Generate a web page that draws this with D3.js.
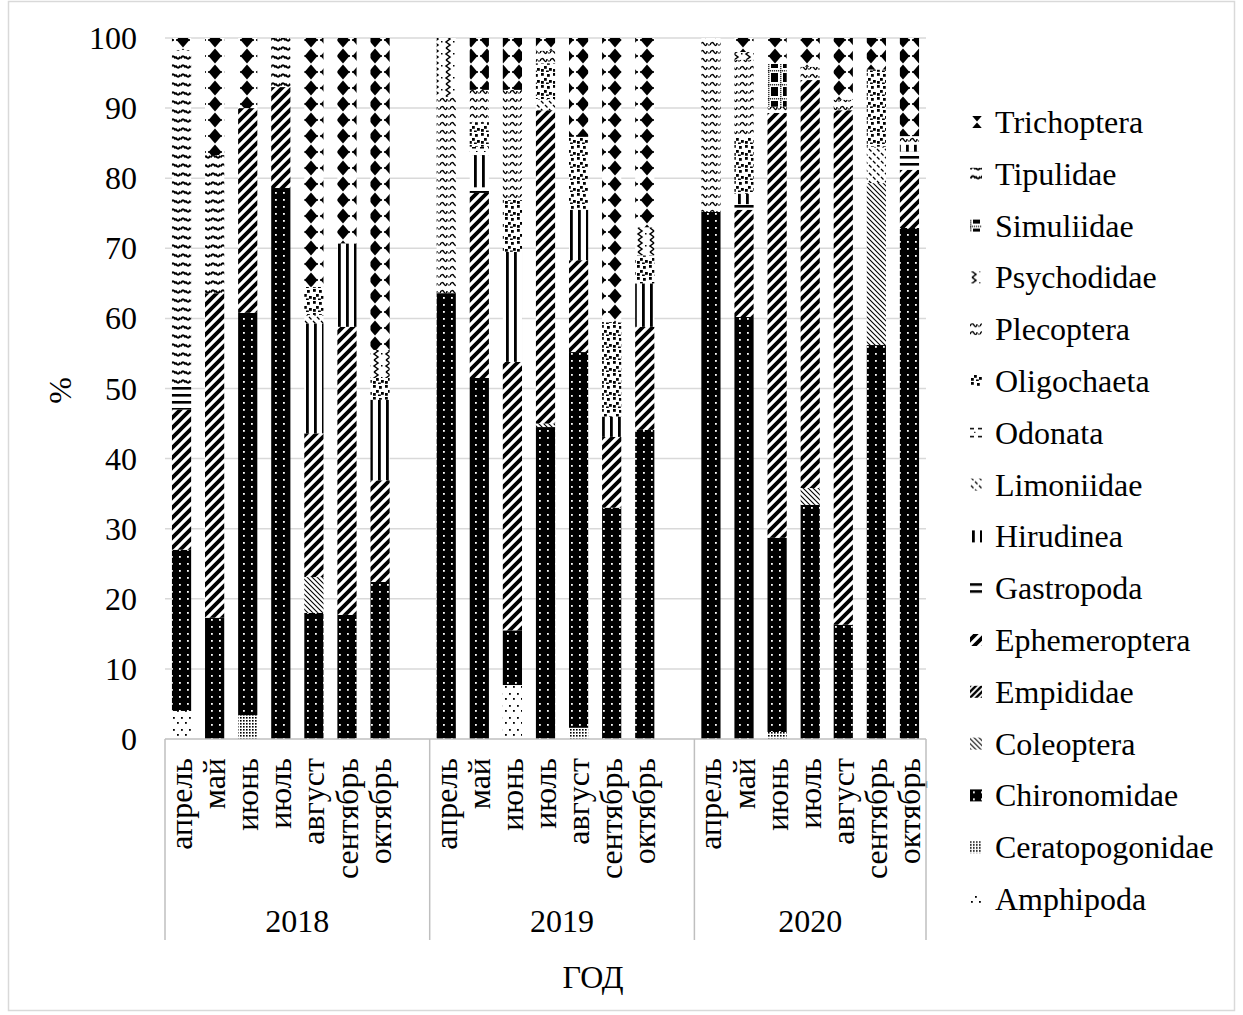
<!DOCTYPE html>
<html lang="ru">
<head>
<meta charset="utf-8">
<script src="https://cdn.jsdelivr.net/npm/d3@7"></script>
<style>
  body { margin: 0; background: #fff; }
  text { font-family: "Liberation Serif", "Times New Roman", serif; fill: #000; }
</style>
</head>
<body>
<div id="chart"></div>
<script>
// ---- data (% of sample) ----
const years = ["2018", "2019", "2020"];
const months = ["апрель", "май", "июнь", "июль", "август", "сентябрь", "октябрь"];
const yTicks = [0, 10, 20, 30, 40, 50, 60, 70, 80, 90, 100];

// stacking order, bottom first (legend shows it reversed)
const taxa = ["Amphipoda", "Ceratopogonidae", "Chironomidae", "Coleoptera", "Empididae",
  "Ephemeroptera", "Gastropoda", "Hirudinea", "Limoniidae", "Odonata", "Oligochaeta",
  "Plecoptera", "Psychodidae", "Simuliidae", "Tipulidae", "Trichoptera"];

//                     2018 апр..окт                     2019 апр..окт                        2020 апр..окт
const amphipoda =     [4, 0, 0, 0, 0, 0, 0,              0, 0, 7.7, 0, 0, 0, 0,               0, 0, 0, 0, 0, 0, 0];
const ceratopogonidae = [0, 0, 3.4, 0, 0, 0, 0,          0, 0, 0, 0, 1.6, 0, 0,               0, 0, 1, 0, 0, 0, 0];
const chironomidae =  [23, 17.3, 57.4, 78.6, 18, 17.7, 22.4, 63.6, 51.5, 7.8, 44.5, 53.6, 33, 44.1, 75.2, 60.2, 27.7, 33.4, 16.3, 56.2, 72.9];
const coleoptera =    [0, 0, 0, 0, 5.1, 0, 0,            0, 0, 0, 0.5, 0, 0, 0,               0, 0, 0, 2.4, 0, 23.1, 0];
const empididae =     [0, 0, 0, 0, 0, 0, 0,              0, 0, 0, 0, 0, 0, 0,                 0, 0, 0, 0, 0, 0, 0];
const ephemeroptera = [20, 46.3, 29.2, 14.4, 20.5, 41.1, 14.5, 0, 26.4, 38.3, 44.7, 13.1, 10.1, 14.7, 0, 15.3, 60.6, 58.2, 73.4, 0, 8.3];
const gastropoda =    [3.5, 0, 0, 0, 0, 0, 0,            0, 0.8, 0, 0, 0, 0, 0,               0, 0.8, 0, 0, 0, 0, 2.6];
const hirudinea =     [0, 0, 0, 0, 15.7, 11.9, 11.5,     0, 4.6, 15.7, 0, 7.2, 2.9, 6.2,      0, 1.5, 0, 0, 0, 0, 1];
const limoniidae =    [0, 0, 0, 0, 1.2, 0, 0,            0, 0, 0, 1.6, 0, 0, 0,               0, 0, 0, 0, 0, 5.2, 0];
const odonata =       [0, 0, 0, 0, 0, 0, 0,              0, 1.2, 0, 0, 0, 0, 0,               0, 0, 0, 0, 0, 0, 0];
const oligochaeta =   [0, 0, 0, 0, 4, 0, 3.1,            0, 3.5, 7.4, 5.1, 10.4, 13.5, 4,     0, 8.1, 0, 0, 0, 11, 0];
const plecoptera =    [0, 0, 0, 0, 0, 0, 0,              28, 4.6, 15.7, 1.8, 0, 0, 0,         24.8, 11, 0.9, 1.9, 1.5, 0, 1.2];
const psychodidae =   [0, 0, 0, 0, 0, 0, 4,              8.4, 0, 0, 0, 0, 0, 4,               0, 1.1, 0, 0, 0, 0, 0];
const simuliidae =    [0, 0, 0, 0, 0, 0, 0,              0, 0, 0, 0, 0, 0, 0,                 0, 0, 6.1, 0, 0, 0, 0];
const tipulidae =     [47.8, 19.7, 0, 7, 0, 0, 0,        0, 0, 0, 0, 0, 0, 0,                 0, 0, 0, 0, 0, 0, 0];
const trichoptera =   [1.7, 16.7, 10, 0, 35.5, 29.3, 44.5, 0, 7.4, 7.4, 1.8, 14.1, 40.5, 27,  0, 2, 3.7, 4.1, 8.8, 4.5, 14];

const valuesByTaxon = {
  Amphipoda: amphipoda, Ceratopogonidae: ceratopogonidae, Chironomidae: chironomidae,
  Coleoptera: coleoptera, Empididae: empididae, Ephemeroptera: ephemeroptera,
  Gastropoda: gastropoda, Hirudinea: hirudinea, Limoniidae: limoniidae, Odonata: odonata,
  Oligochaeta: oligochaeta, Plecoptera: plecoptera, Psychodidae: psychodidae,
  Simuliidae: simuliidae, Tipulidae: tipulidae, Trichoptera: trichoptera
};

// ---- layout ----
const W = 1243, H = 1015;
const plot = {left: 165, right: 926, top: 38, bottom: 739};
const font = 32;

// category slots: months of each year + one empty slot between years (like Excel)
const slots = [];
years.forEach((yr, i) => {
  months.forEach(m => slots.push(yr + "|" + m));
  if (i < years.length - 1) slots.push("gap" + i);
});

const rows = [];
years.forEach((yr, yi) => months.forEach((m, mi) => {
  const row = {key: yr + "|" + m, year: yr, month: m};
  taxa.forEach(t => row[t] = valuesByTaxon[t][yi * months.length + mi]);
  rows.push(row);
}));

const x = d3.scaleBand().domain(slots).range([plot.left, plot.right]).padding(0);
const y = d3.scaleLinear().domain([0, 100]).range([plot.bottom, plot.top]);
const barW = x.step() * 0.58;

const svg = d3.select("#chart").append("svg")
  .attr("width", W).attr("height", H);

svg.append("rect").attr("width", W).attr("height", H).attr("fill", "#fff");
// chart border
svg.append("rect")
  .attr("x", 8.5).attr("y", 1.5).attr("width", 1226).attr("height", 1009)
  .attr("fill", "none").attr("stroke", "#d9d9d9").attr("stroke-width", 1.5);

// ---- pattern fills (black on white, like Excel) ----
const defs = svg.append("defs");
function pat(id, w, h, draw) {
  const p = defs.append("pattern").attr("id", id)
    .attr("patternUnits", "userSpaceOnUse").attr("width", w).attr("height", h);
  p.append("rect").attr("width", w).attr("height", h).attr("fill", "#fff");
  draw(p);
}
const sq = (p, a, b, w, h, c) => p.append("rect").attr("x", a).attr("y", b)
  .attr("width", w).attr("height", h).attr("fill", c || "#000");
const ln = (p, d, sw) => p.append("path").attr("d", d).attr("fill", "none")
  .attr("stroke", "#000").attr("stroke-width", sw);

const patterns = {
  Amphipoda: p => { sq(p, 1, 2, 1.8, 1.8); sq(p, 5, 9, 1.8, 1.8); },
  Ceratopogonidae: p => { sq(p, 0, 0, 1.6, 1.6); },
  Chironomidae: p => { sq(p, 0, 0, 8, 7); sq(p, 3, 3, 1.8, 1.8, "#fff"); },
  Coleoptera: p => ln(p, "M0,0L5,5M-1,4L1,6M4,-1L6,1", 1.1),
  Empididae: p => ln(p, "M0,6L6,0M-1,1L1,-1M5,7L7,5", 2.4),
  Ephemeroptera: p => ln(p, "M0,10L10,0M-2,2L2,-2M8,12L12,8", 3.8),
  Gastropoda: p => sq(p, 0, 2, 8, 2.6),
  Hirudinea: p => sq(p, 2, 0, 2.8, 8),
  Limoniidae: p => ln(p, "M1,1L3.5,3.5M5,5L7.5,7.5", 1.3),
  Odonata: p => { sq(p, 0, 3, 4, 1.5); sq(p, 4, 7, 1.5, 1.5); },
  Oligochaeta: p => {
    [[1, 1], [7, 2], [4, 6], [9, 8], [1, 9], [6, 10.5]].forEach(d => sq(p, d[0], d[1], 2.8, 2.8));
  },
  Plecoptera: p => { ln(p, "M0,5C1,2 3,2 4,4C5,6 7,6 7,3", 1.5); sq(p, 8.3, 4.3, 1.4, 1.4); },
  Psychodidae: p => { ln(p, "M2,0L6,3L2,6L6,9L2,12", 1.5); sq(p, 9, 5, 1.5, 1.5); },
  Simuliidae: p => {
    d3.range(6).forEach(i => sq(p, i * 2, 0.2, 1.2, 1.2));
    d3.range(7).forEach(j => sq(p, 0.2, j * 2, 1.2, 1.2));
    sq(p, 3, 3, 7, 9);
  },
  Tipulidae: p => ln(p, "M0.5,4.5Q3,0 5.5,4.5M5.5,2.5Q8,7 10.5,2.5", 1.8),
  Trichoptera: p => {
    p.append("polygon").attr("points", "7,0.5 13.5,8 7,15.5 0.5,8").attr("fill", "#000");
    sq(p, 0, 7.2, 14, 1.6);
  }
};
const patSize = {
  Amphipoda: [8, 12], Ceratopogonidae: [3, 3], Chironomidae: [8, 7], Coleoptera: [5, 5],
  Empididae: [6, 6], Ephemeroptera: [10, 10], Gastropoda: [8, 7], Hirudinea: [8, 8],
  Limoniidae: [8, 8], Odonata: [8, 8], Oligochaeta: [12, 12], Plecoptera: [10, 8],
  Psychodidae: [12, 12], Simuliidae: [12, 14], Tipulidae: [10, 9], Trichoptera: [16, 16]
};
taxa.forEach((t, i) => pat("pat" + i, patSize[t][0], patSize[t][1], patterns[t]));
const fillOf = t => "url(#pat" + taxa.indexOf(t) + ")";

// ---- gridlines ----
svg.append("g").selectAll("line").data(yTicks.filter(d => d > 0)).join("line")
  .attr("x1", plot.left).attr("x2", plot.right)
  .attr("y1", d => y(d)).attr("y2", d => y(d))
  .attr("stroke", "#d9d9d9").attr("stroke-width", 1.5);

// ---- stacked bars ----
const stacked = d3.stack().keys(taxa)(rows);
svg.append("g").selectAll("g").data(stacked).join("g")
  .attr("fill", d => fillOf(d.key))
  .selectAll("rect").data(d => d.filter(s => s[1] - s[0] > 0)).join("rect")
  .attr("x", d => x(d.data.key) + (x.step() - barW) / 2)
  .attr("width", barW)
  .attr("y", d => y(d[1]))
  .attr("height", d => y(d[0]) - y(d[1]));

// ---- y axis labels ----
svg.append("g").selectAll("text").data(yTicks).join("text")
  .attr("x", 137).attr("y", d => y(d))
  .attr("text-anchor", "end").attr("dominant-baseline", "central")
  .style("font-size", font + "px").text(d => d);

svg.append("text")
  .attr("transform", "translate(60," + ((plot.top + plot.bottom) / 2 + 2) + ") rotate(-90)")
  .attr("text-anchor", "middle").attr("dominant-baseline", "central")
  .style("font-size", font + "px").text("%");

// ---- x axis: line, month labels, year boxes ----
const axisColor = "#bfbfbf";
svg.append("line").attr("x1", plot.left).attr("x2", plot.right)
  .attr("y1", plot.bottom).attr("y2", plot.bottom)
  .attr("stroke", axisColor).attr("stroke-width", 1.5);

svg.append("g").selectAll("text").data(rows).join("text")
  .attr("transform", d => "translate(" + (x(d.key) + x.step() / 2) + ",758) rotate(-90)")
  .attr("text-anchor", "end").attr("dy", "0.33em")
  .style("font-size", font + "px").text(d => d.month);

const groupEdges = years.map((yr, i) => {
  const first = x(yr + "|" + months[0]);
  const last = i < years.length - 1 ? x("gap" + i) + x.step() : plot.right;
  return {year: yr, x0: first, x1: last};
});
const sepX = [plot.left].concat(groupEdges.map(g => g.x1));
svg.append("g").selectAll("line").data(sepX).join("line")
  .attr("x1", d => d).attr("x2", d => d)
  .attr("y1", plot.bottom).attr("y2", 940)
  .attr("stroke", axisColor).attr("stroke-width", 1.5);

svg.append("g").selectAll("text").data(groupEdges).join("text")
  .attr("x", d => (d.x0 + d.x1) / 2).attr("y", 921)
  .attr("text-anchor", "middle").attr("dominant-baseline", "central")
  .style("font-size", font + "px").text(d => d.year);

svg.append("text").attr("x", 593).attr("y", 977)
  .attr("text-anchor", "middle").attr("dominant-baseline", "central")
  .style("font-size", font + "px").text("ГОД");

// ---- legend ----
const legendTaxa = taxa.slice().reverse();
const lg = svg.append("g").selectAll("g").data(legendTaxa).join("g")
  .attr("transform", (d, i) => "translate(970," + (122 + i * 51.8) + ")");
lg.append("rect").attr("x", 0).attr("y", -6).attr("width", 12).attr("height", 12)
  .attr("fill", d => fillOf(d));
lg.append("text").attr("x", 25).attr("y", 0).attr("dominant-baseline", "central")
  .style("font-size", font + "px").text(d => d);
</script>
</body>
</html>
